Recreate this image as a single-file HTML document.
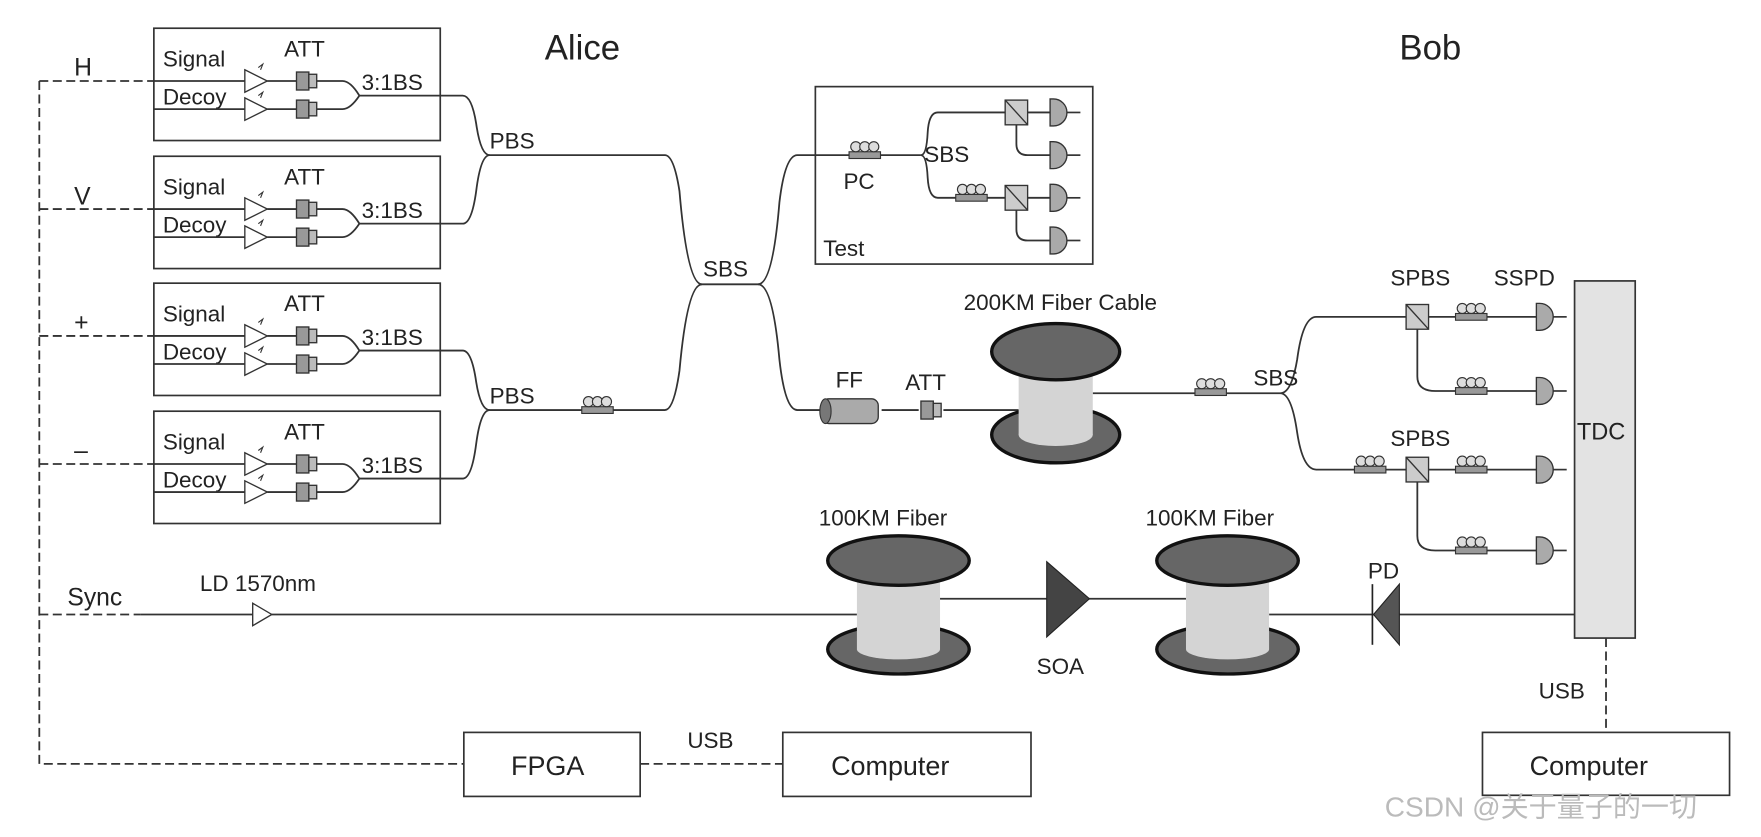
<!DOCTYPE html>
<html><head><meta charset="utf-8"><style>
html,body{margin:0;padding:0;background:#fff;}
svg{display:block;}
text{font-family:"Liberation Sans","Noto Sans CJK SC",sans-serif;fill:#222;}
</style></head><body>
<svg width="1761" height="837" viewBox="0 0 1568 745" xmlns="http://www.w3.org/2000/svg">
<defs>
<g id="pc"><rect x="-14" y="0" width="28" height="6" fill="#999" stroke="#333" stroke-width="1"/><circle cx="-8" cy="-4.5" r="4.5" fill="#ddd" stroke="#333" stroke-width="1"/><circle cx="0" cy="-4.5" r="4.5" fill="#ddd" stroke="#333" stroke-width="1"/><circle cx="8" cy="-4.5" r="4.5" fill="#ddd" stroke="#333" stroke-width="1"/></g>
<g id="det"><path d="M0,-12 h3 a12,12 0 0 1 0,24 h-3 z" fill="#aaa" stroke="#333" stroke-width="1.2"/><line x1="15" y1="0" x2="27" y2="0" stroke="#333" stroke-width="1.5"/></g>
<g id="cube"><rect x="-10" y="-11" width="20" height="22" fill="#ccc" stroke="#333" stroke-width="1.2"/><line x1="-10" y1="-11" x2="10" y2="11" stroke="#333" stroke-width="1.2"/></g>
<g id="amp"><polygon points="0,-10 20,0 0,10" fill="#fff" stroke="#333" stroke-width="1.2"/><path d="M12,-12 l4,-3 l-2,5" fill="none" stroke="#333" stroke-width="1"/></g>
<g id="att"><rect x="0" y="-8" width="11" height="16" fill="#999" stroke="#333" stroke-width="1.2"/><rect x="11" y="-6" width="7" height="12" fill="#bbb" stroke="#333" stroke-width="1.2"/></g>
<g id="box">
<rect x="137" y="25" width="255" height="100" fill="#fff" stroke="#333" stroke-width="1.5"/>
<text x="145" y="59" font-size="20">Signal</text>
<text x="145" y="93" font-size="20">Decoy</text>
<text x="253" y="50" font-size="20">ATT</text>
<text x="322" y="80" font-size="20">3:1BS</text>
<path d="M137,72 H218 M238,72 H264 M282,72 H305 Q312,72 320,85 M137,97 H218 M238,97 H264 M282,97 H305 Q312,97 320,85 M320,85 H392" fill="none" stroke="#333" stroke-width="1.6"/>
<use href="#amp" x="218" y="72"/><use href="#amp" x="218" y="97"/>
<use href="#att" x="264" y="72"/><use href="#att" x="264" y="97"/>
</g>
</defs>

<text x="485" y="53" font-size="31">Alice</text>
<text x="1246" y="53" font-size="31">Bob</text>

<g stroke="#333" stroke-width="1.6" stroke-dasharray="8,4" fill="none">
<path d="M35,72 V680 H413"/>
<path d="M35,72 H137 M35,186 H137 M35,299 H137 M35,413 H137 M35,547 H125"/>
<path d="M570,680 H697"/>
<path d="M1430,568 V652"/>
</g>
<text x="66" y="67" font-size="22">H</text>
<text x="66" y="182" font-size="22">V</text>
<text x="66" y="294" font-size="22">+</text>
<text x="66" y="408" font-size="22">–</text>
<text x="60" y="539" font-size="22">Sync</text>

<use href="#box"/>
<use href="#box" y="114"/>
<use href="#box" y="227"/>
<use href="#box" y="341"/>

<g fill="none" stroke="#333" stroke-width="1.6">
<path d="M392,85 H412 Q420,85 424,110 Q428,138 436,138 H592 Q600,138 605,170 Q612,253 625,253 H675 Q688,253 694,180 Q699,138 710,138 H820"/>
<path d="M392,199 H412 Q420,199 424,170 Q428,138 436,138"/>
<path d="M392,312 H412 Q420,312 424,340 Q428,365 436,365 H592 Q600,365 605,330 Q612,253 625,253"/>
<path d="M392,426 H412 Q420,426 424,395 Q428,365 436,365"/>
<path d="M675,253 Q688,253 694,320 Q699,365 710,365 H730 M785,365 H818 M840,365 H907"/>
<path d="M820,138 Q825,138 826,118 Q827,100 835,100 H895 M820,138 Q825,138 826,158 Q827,176 835,176 H895 M905,111 V128 Q905,138 915,138 H935 M905,187 V204 Q905,214 915,214 H935 M915,100 H935 M915,176 H935"/>
<path d="M973,350 H1140 Q1150,350 1155,320 Q1160,282 1172,282 H1255 M1140,350 Q1150,350 1155,385 Q1160,418 1172,418 H1255"/>
<path d="M1265,282 H1375 M1265,418 H1375 M1262,293 V335 Q1262,348 1278,348 H1375 M1262,429 V477 Q1262,490 1278,490 H1375"/>
<path d="M125,547 H763 M837,533 H1056 M1130,547 H1402"/>
</g>

<text x="436" y="132" font-size="20">PBS</text>
<text x="436" y="359" font-size="20">PBS</text>
<text x="626" y="246" font-size="20">SBS</text>
<use href="#pc" x="532" y="362"/>

<rect x="726" y="77" width="247" height="158" fill="none" stroke="#333" stroke-width="1.5"/>
<use href="#pc" x="770" y="135"/>
<text x="751" y="168" font-size="20">PC</text>
<text x="823" y="144" font-size="20">SBS</text>
<text x="733" y="228" font-size="20">Test</text>
<use href="#pc" x="865" y="173"/>
<use href="#cube" x="905" y="100"/>
<use href="#cube" x="905" y="176"/>
<use href="#det" x="935" y="100"/><use href="#det" x="935" y="138"/><use href="#det" x="935" y="176"/><use href="#det" x="935" y="214"/>

<text x="744" y="345" font-size="20">FF</text>
<rect x="732" y="355" width="50" height="22" rx="6" fill="#aaa" stroke="#333" stroke-width="1.2"/>
<ellipse cx="735" cy="366" rx="5" ry="11" fill="#777" stroke="#333"/>
<text x="806" y="347" font-size="20">ATT</text>
<use href="#att" x="820" y="365"/>

<text x="858" y="276" font-size="20">200KM Fiber Cable</text>
<ellipse cx="940" cy="387" rx="57" ry="25" fill="#666" stroke="#111" stroke-width="3"/>
<rect x="907" y="313" width="66" height="74" fill="#d4d4d4"/>
<ellipse cx="940" cy="387" rx="33" ry="10" fill="#d4d4d4"/>
<ellipse cx="940" cy="313" rx="57" ry="25" fill="#666" stroke="#111" stroke-width="3"/>

<use href="#pc" x="1078" y="346"/>
<text x="1116" y="343" font-size="20">SBS</text>
<text x="1238" y="254" font-size="20">SPBS</text>
<text x="1330" y="254" font-size="20">SSPD</text>
<text x="1238" y="397" font-size="20">SPBS</text>
<use href="#pc" x="1220" y="415"/>
<use href="#cube" x="1262" y="282"/><use href="#cube" x="1262" y="418"/>
<use href="#pc" x="1310" y="279"/><use href="#pc" x="1310" y="345"/><use href="#pc" x="1310" y="415"/><use href="#pc" x="1310" y="487"/>
<use href="#det" x="1368" y="282"/><use href="#det" x="1368" y="348"/><use href="#det" x="1368" y="418"/><use href="#det" x="1368" y="490"/>

<rect x="1402" y="250" width="54" height="318" fill="#e3e3e3" stroke="#333" stroke-width="1.5"/>
<text x="1404" y="391" font-size="21">TDC</text>

<polygon points="225,537 242,547 225,557" fill="#fff" stroke="#333" stroke-width="1.2"/>
<text x="178" y="526" font-size="20">LD 1570nm</text>
<text x="729" y="468" font-size="20">100KM Fiber</text>
<text x="1020" y="468" font-size="20">100KM Fiber</text>
<g>
<ellipse cx="800" cy="578" rx="63" ry="22" fill="#666" stroke="#111" stroke-width="3"/>
<rect x="763" y="499" width="74" height="79" fill="#d4d4d4"/>
<ellipse cx="800" cy="578" rx="37" ry="9" fill="#d4d4d4"/>
<ellipse cx="800" cy="499" rx="63" ry="22" fill="#666" stroke="#111" stroke-width="3"/>
</g>
<g transform="translate(293,0)">
<ellipse cx="800" cy="578" rx="63" ry="22" fill="#666" stroke="#111" stroke-width="3"/>
<rect x="763" y="499" width="74" height="79" fill="#d4d4d4"/>
<ellipse cx="800" cy="578" rx="37" ry="9" fill="#d4d4d4"/>
<ellipse cx="800" cy="499" rx="63" ry="22" fill="#666" stroke="#111" stroke-width="3"/>
</g>
<polygon points="932,500 970,533 932,567" fill="#444" stroke="#222"/>
<text x="923" y="600" font-size="20">SOA</text>
<polygon points="1246,520 1223,547 1246,574" fill="#555" stroke="#222"/>
<line x1="1222" y1="520" x2="1222" y2="574" stroke="#222" stroke-width="1.5"/>
<text x="1218" y="515" font-size="20">PD</text>

<rect x="413" y="652" width="157" height="57" fill="#fff" stroke="#333" stroke-width="1.5"/>
<text x="455" y="690" font-size="24">FPGA</text>
<rect x="697" y="652" width="221" height="57" fill="#fff" stroke="#333" stroke-width="1.5"/>
<text x="740" y="690" font-size="24">Computer</text>
<text x="612" y="666" font-size="20">USB</text>
<text x="1370" y="622" font-size="20">USB</text>
<rect x="1320" y="652" width="220" height="56" fill="#fff" stroke="#333" stroke-width="1.5"/>
<text x="1362" y="690" font-size="24">Computer</text>
<text x="1233" y="727" font-size="25" style="fill:#bbbbbb">CSDN @关于量子的一切</text>
</svg>
</body></html>
